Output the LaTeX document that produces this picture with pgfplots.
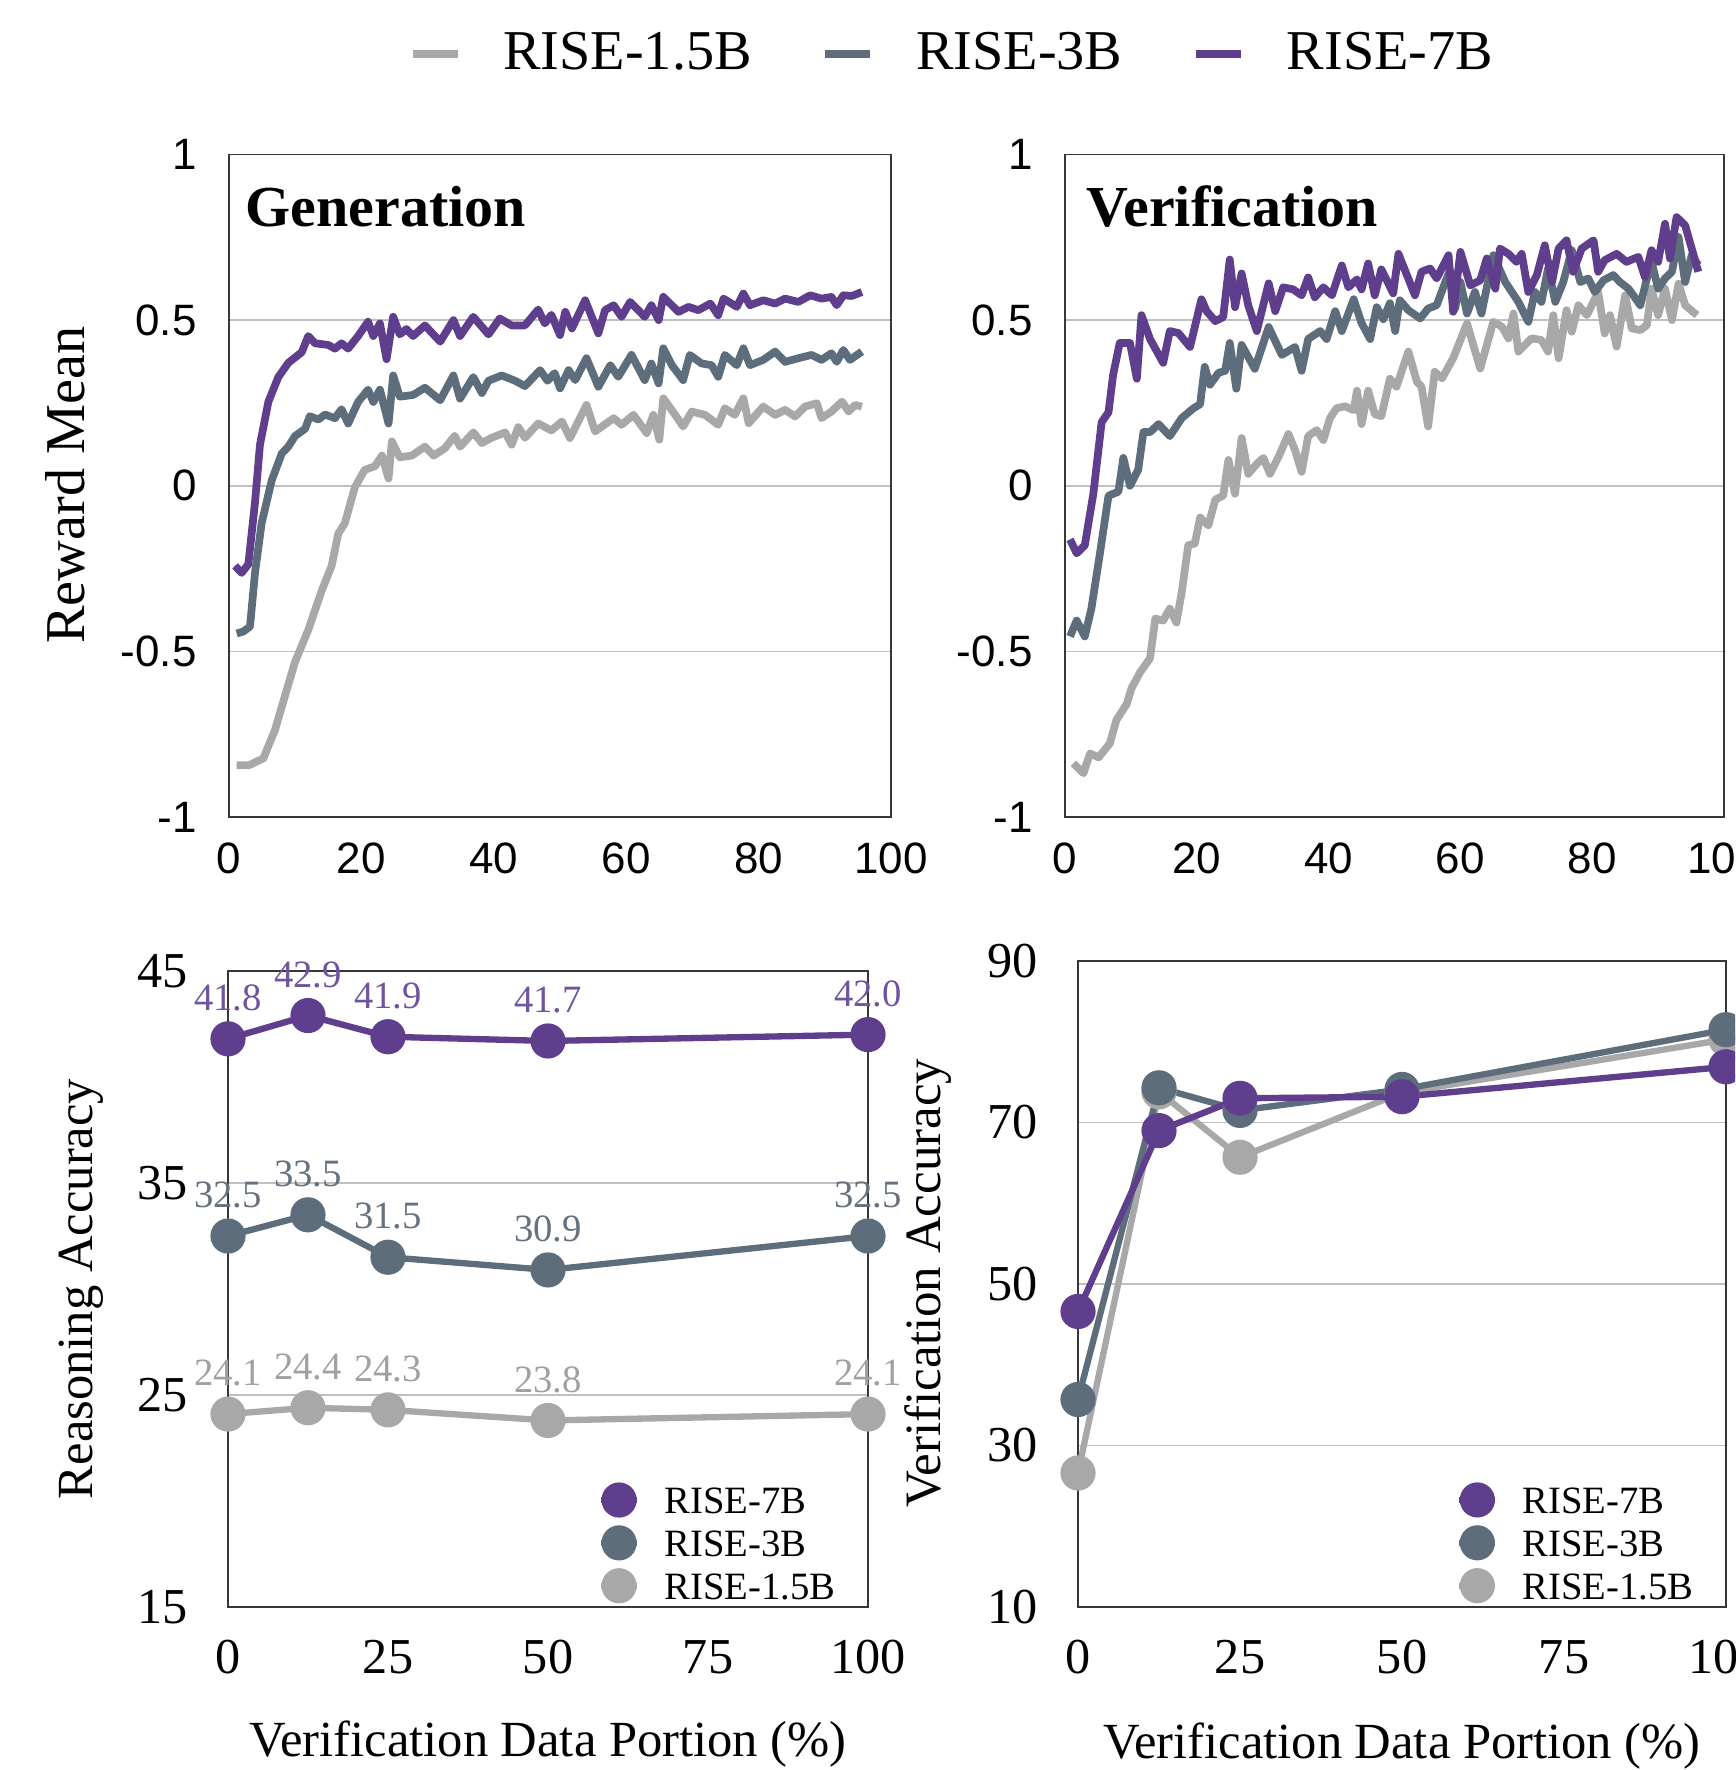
\documentclass[border=0pt]{standalone}
\usepackage{fontspec}
\setmainfont{Liberation Serif}
\setsansfont{Liberation Sans}
\usepackage{pgfplots}
\pgfplotsset{compat=1.18}

\definecolor{c7}{RGB}{96,62,142}
\definecolor{c3}{RGB}{94,109,124}
\definecolor{c15}{RGB}{168,168,168}
\definecolor{l7}{RGB}{112,84,158}
\definecolor{l3}{RGB}{100,113,127}
\definecolor{l15}{RGB}{160,160,160}
\definecolor{framec}{RGB}{55,55,55}
\definecolor{gridc}{RGB}{192,192,192}

\newcommand\fs[1]{\fontsize{#1}{#1}\selectfont}

\pgfplotsset{
  base/.style={
    scale only axis, anchor=south west,
    axis line style={framec, line width=0.55pt},
    major tick length=0pt, ymajorgrids,
    major grid style={gridc, line width=0.45pt},
    /pgf/number format/assume math mode=true,
  },
  top/.style={
    base, width=66.2mm, height=66.25mm,
    xmin=0, xmax=100, ymin=-1, ymax=1,
    xtick={0,20,40,60,80,100}, xticklabels={0,20,40,60,80,100},
    ytick={-1,-0.5,0,0.5,1}, yticklabels={-1,-0.5,0,0.5,1},
    tick label style={font=\sffamily\fs{12.5}},
    xticklabel style={yshift=-1.35mm}, yticklabel style={xshift=-2mm},
    every axis plot/.append style={line width=2.2pt, no marks, line join=round},
  },
  bot/.style={
    base, xmin=0, xmax=100, clip=false,
    xtick={0,25,50,75,100}, xticklabels={0,25,50,75,100},
    tick label style={font=\fs{14.3}},
    xticklabel style={yshift=-2.1mm}, yticklabel style={xshift=-2.8mm},
    every axis plot/.append style={line width=1.8pt, mark=*, mark size=4.1pt},
    xlabel={Verification Data Portion (\%)},
    every axis x label/.style={at={(axis description cs:0.5,-0.2154)}, anchor=center, font=\fs{14.4}},
    reverse legend, legend cell align=left,
    legend style={draw=none, fill=none, inner sep=0pt, font=\fs{11},
      nodes={inner sep=0.6pt, text height=7.6pt, text depth=0pt},
      row sep=3.4pt,
      /tikz/every odd column/.append style={column sep=2.2mm}},
    legend image code/.code={\draw[#1, mark repeat=2, mark phase=2] plot coordinates {(-1.8mm,0) (0,0) (1.8mm,0)};},
  },
}

\begin{document}
\begin{tikzpicture}
\useasboundingbox (0,0) rectangle (173.5mm,-177mm);
\clip (0,0) rectangle (173.5mm,-177mm);

% Generation
\begin{axis}[top, at={(22.9mm,-81.7mm)},
  ylabel={Reward Mean},
  every axis y label/.style={at={(axis description cs:-0.2477,0.501)}, rotate=90, anchor=center, font=\fs{16}},
  legend columns=3,
  legend style={at={(1.0906,1.152)}, anchor=center, draw=none, fill=none, inner sep=0pt,
    font=\fs{16}, nodes={inner sep=0pt},
    /tikz/every odd column/.append style={column sep=4.2mm},
    /tikz/every even column/.append style={column sep=7.0mm}},
  legend image code/.code={\draw[#1, line width=0.75mm] (0,0) -- (4.5mm,0);},
]
\addplot[c15] coordinates {(1.16,-0.844) (3.0,-0.844) (5.19,-0.823) (6.95,-0.737) (8.46,-0.634) (9.97,-0.532) (11.98,-0.435) (14.0,-0.317) (15.5,-0.242) (16.5,-0.145) (17.5,-0.113) (19.0,-0.005) (20.5,0.048) (22.05,0.059) (23.1,0.091) (24.1,0.022) (24.6,0.134) (25.8,0.086) (27.6,0.091) (29.6,0.118) (30.9,0.091) (32.6,0.113) (34.1,0.151) (34.9,0.118) (36.9,0.161) (38.2,0.129) (39.7,0.145) (41.7,0.161) (42.7,0.124) (43.7,0.177) (44.7,0.145) (46.7,0.188) (48.7,0.167) (50.3,0.194) (51.5,0.144) (54,0.244) (55.3,0.164) (58.1,0.204) (59.3,0.184) (61.1,0.214) (63.1,0.159) (64.1,0.214) (65,0.139) (65.6,0.264) (67.4,0.214) (68.6,0.179) (69.9,0.224) (71.9,0.214) (73.9,0.184) (74.9,0.234) (76.4,0.214) (77.7,0.264) (78.5,0.189) (80.7,0.239) (82.5,0.214) (84,0.229) (85.5,0.209) (87,0.239) (88.8,0.249) (89.5,0.204) (91,0.224) (92.6,0.254) (93.6,0.224) (94.6,0.244) (95.6,0.239)};
\addlegendentry{RISE-1.5B}
\addplot[c3] coordinates {(1.16,-0.446) (2.17,-0.44) (3.17,-0.425) (3.93,-0.263) (4.93,-0.113) (6.45,0.016) (7.96,0.097) (8.96,0.118) (9.97,0.15) (11.5,0.172) (12.2,0.21) (13.5,0.2) (14.5,0.215) (16.0,0.204) (17.0,0.231) (18.0,0.188) (19.5,0.253) (21.0,0.29) (21.8,0.253) (22.8,0.29) (24.1,0.188) (24.8,0.333) (25.8,0.269) (27.8,0.274) (29.6,0.296) (31.9,0.258) (33.9,0.333) (34.9,0.263) (36.9,0.328) (38.2,0.28) (39.2,0.317) (41.2,0.333) (43.2,0.317) (44.7,0.301) (47.0,0.349) (48.1,0.317) (49.2,0.34) (50,0.294) (51.3,0.349) (52.3,0.319) (54,0.385) (55.8,0.299) (57.6,0.364) (58.8,0.329) (60.8,0.395) (62.8,0.319) (63.8,0.369) (64.9,0.309) (65.6,0.415) (66.9,0.364) (68.6,0.319) (69.6,0.395) (71.4,0.369) (72.9,0.364) (73.9,0.329) (74.9,0.395) (76.7,0.364) (77.7,0.415) (78.7,0.364) (80.7,0.38) (82.5,0.405) (84,0.374) (86,0.385) (88,0.395) (89.5,0.38) (91,0.4) (91.8,0.374) (92.8,0.41) (93.8,0.38) (95.6,0.405)};
\addlegendentry{RISE-3B}
\addplot[c7] coordinates {(0.91,-0.242) (1.91,-0.263) (2.92,-0.237) (3.93,-0.05) (4.68,0.124) (5.94,0.253) (7.45,0.328) (8.96,0.371) (10.98,0.403) (11.98,0.452) (12.99,0.43) (15.0,0.425) (16.0,0.414) (17.0,0.43) (18.0,0.414) (19.5,0.452) (21.0,0.495) (21.8,0.452) (22.8,0.49) (23.8,0.382) (24.8,0.51) (25.8,0.457) (26.8,0.473) (27.8,0.452) (29.6,0.484) (31.9,0.435) (33.9,0.5) (34.9,0.452) (36.9,0.51) (39.2,0.457) (40.9,0.505) (42.7,0.484) (44.7,0.484) (46.7,0.532) (47.7,0.49) (48.7,0.516) (50,0.455) (50.8,0.525) (51.8,0.475) (53.8,0.56) (55.8,0.46) (56.8,0.53) (58.1,0.545) (59.3,0.51) (60.6,0.555) (62.8,0.51) (63.8,0.545) (64.9,0.5) (65.6,0.57) (67.9,0.525) (69.4,0.54) (70.9,0.53) (72.7,0.55) (73.9,0.515) (74.7,0.565) (76.7,0.54) (77.7,0.58) (78.7,0.545) (80.7,0.56) (82.5,0.55) (84,0.565) (86,0.555) (87.8,0.575) (89.5,0.565) (91,0.57) (91.8,0.545) (92.8,0.575) (94.1,0.573) (95.6,0.585)};
\addlegendentry{RISE-7B}
\node[anchor=base west, inner sep=0pt, font=\bfseries\fs{16.5}] at (rel axis cs:0.024,0.892) {Generation};
\end{axis}

% Verification
\begin{axis}[top, at={(106.5mm,-81.7mm)}, width=65.9mm]
\addplot[c15] coordinates {(1.26,-0.838) (2.8,-0.868) (3.8,-0.808) (5.1,-0.82) (6.8,-0.778) (7.8,-0.707) (9.36,-0.659) (10.1,-0.611) (11.4,-0.563) (12.9,-0.521) (13.7,-0.401) (14.9,-0.407) (15.9,-0.371) (16.9,-0.413) (17.7,-0.323) (18.7,-0.18) (19.7,-0.174) (20.5,-0.096) (21.75,-0.12) (22.8,-0.042) (24,-0.03) (24.8,0.078) (25.8,-0.024) (26.8,0.144) (27.8,0.036) (29.1,0.066) (30.1,0.084) (31.1,0.036) (32.6,0.096) (33.9,0.156) (34.9,0.108) (35.9,0.042) (36.9,0.15) (38.2,0.168) (39.2,0.138) (40.2,0.204) (41.2,0.234) (42.5,0.24) (43.8,0.228) (44.3,0.287) (45,0.186) (46,0.287) (47,0.216) (48,0.21) (49.3,0.323) (50.3,0.299) (52.1,0.405) (53.4,0.314) (54.1,0.299) (55.1,0.179) (56.1,0.344) (57.2,0.324) (58.9,0.385) (61,0.49) (63,0.354) (65,0.495) (66.3,0.48) (67.3,0.445) (68.05,0.52) (68.8,0.405) (70.8,0.445) (72.3,0.44) (73.3,0.405) (74.1,0.515) (74.9,0.385) (76.1,0.53) (76.9,0.465) (77.9,0.545) (79.2,0.515) (80.9,0.585) (81.9,0.46) (82.7,0.515) (83.7,0.42) (85,0.575) (86,0.475) (87.3,0.47) (88.3,0.485) (89,0.595) (90,0.515) (91.05,0.595) (92.1,0.5) (93.1,0.61) (94.1,0.545) (95.9,0.515)};
\addplot[c3] coordinates {(0.76,-0.455) (1.77,-0.407) (3.0,-0.455) (4.0,-0.371) (5.3,-0.204) (6.6,-0.03) (8.1,-0.018) (8.85,0.084) (9.86,0.0) (11.1,0.048) (11.9,0.162) (12.9,0.162) (14.2,0.186) (15.9,0.15) (17.7,0.204) (19.5,0.234) (20.5,0.246) (21.2,0.359) (22,0.305) (23.3,0.341) (24.3,0.347) (25,0.431) (26,0.293) (26.8,0.425) (28.8,0.353) (30.9,0.479) (32.9,0.395) (34.9,0.419) (35.9,0.347) (36.9,0.443) (38.7,0.467) (39.7,0.443) (41,0.527) (42,0.467) (43.8,0.563) (45,0.491) (46.3,0.443) (47.3,0.539) (48.3,0.503) (49.3,0.551) (50.1,0.467) (50.8,0.56) (52.1,0.53) (53.9,0.505) (55.1,0.535) (56.4,0.545) (57.7,0.615) (58.4,0.65) (59.2,0.535) (60,0.615) (61,0.52) (62.2,0.585) (63.2,0.52) (65,0.696) (66.8,0.615) (68.8,0.555) (70.3,0.495) (71.3,0.585) (72.3,0.555) (73.3,0.656) (74.4,0.555) (75.6,0.615) (76.9,0.711) (78.2,0.615) (79.4,0.626) (80.4,0.585) (81.7,0.62) (83.2,0.636) (84.2,0.615) (85.5,0.595) (87.3,0.545) (88.3,0.626) (89,0.676) (90,0.595) (91.05,0.626) (92.1,0.646) (93.1,0.751) (94.1,0.615) (95.1,0.696) (96.1,0.666)};
\addplot[c7] coordinates {(0.76,-0.162) (1.77,-0.204) (3.0,-0.18) (4.3,-0.024) (5.56,0.192) (6.6,0.222) (7.3,0.335) (8.3,0.431) (9.86,0.431) (10.9,0.323) (11.6,0.515) (12.9,0.443) (14.9,0.371) (15.9,0.467) (17.2,0.461) (18.97,0.419) (20.7,0.563) (21.5,0.527) (22.8,0.497) (24,0.509) (25,0.683) (25.8,0.539) (26.8,0.641) (27.8,0.545) (29.1,0.467) (30.9,0.611) (31.9,0.527) (33.1,0.599) (34.6,0.593) (35.9,0.575) (36.9,0.629) (37.9,0.569) (39.2,0.599) (40.5,0.575) (42,0.665) (43,0.599) (44.3,0.623) (45,0.593) (46,0.671) (47,0.575) (48,0.653) (49.8,0.581) (50.6,0.70) (53.1,0.575) (54.1,0.646) (55.4,0.656) (56.4,0.626) (58.2,0.696) (58.9,0.525) (60,0.706) (61.5,0.605) (63,0.62) (64,0.686) (65.3,0.595) (66,0.716) (67.3,0.70) (68.5,0.676) (69.3,0.70) (70.3,0.585) (71.6,0.636) (72.8,0.726) (73.9,0.615) (74.9,0.716) (76.1,0.741) (77.1,0.646) (78.4,0.716) (80.2,0.741) (80.9,0.646) (81.9,0.681) (83.7,0.70) (85.2,0.676) (87,0.691) (88,0.63) (89,0.711) (90,0.676) (91.05,0.791) (91.8,0.686) (92.8,0.811) (94.1,0.786) (95.1,0.716) (96.1,0.646)};
\node[anchor=base west, inner sep=0pt, font=\bfseries\fs{16.5}] at (rel axis cs:0.032,0.892) {Verification};
\end{axis}

% Reasoning accuracy
\begin{axis}[bot, at={(22.8mm,-160.7mm)}, width=64mm, height=63.6mm,
  ymin=15, ymax=45, ytick={15,25,35,45}, yticklabels={15,25,35,45},
  ylabel={Reasoning Accuracy},
  every axis y label/.style={at={(axis description cs:-0.2297,0.5)}, rotate=90, anchor=center, font=\fs{14.4}},
  nodes near coords={\pgfmathprintnumber[fixed,fixed zerofill,precision=1]{\pgfplotspointmeta}},
  every node near coord/.append style={font=\fs{11}, yshift=1.3mm},
  legend style={at={(0.953,0.008)}, anchor=south east},
]
\addplot[c15, every node near coord/.append style={text=l15}] coordinates {(0,24.1) (12.5,24.4) (25,24.3) (50,23.8) (100,24.1)};
\addlegendentry{RISE-1.5B}
\addplot[c3, every node near coord/.append style={text=l3}] coordinates {(0,32.5) (12.5,33.5) (25,31.5) (50,30.9) (100,32.5)};
\addlegendentry{RISE-3B}
\addplot[c7, every node near coord/.append style={text=l7}] coordinates {(0,41.8) (12.5,42.9) (25,41.9) (50,41.7) (100,42.0)};
\addlegendentry{RISE-7B}
\end{axis}

% Verification accuracy
\begin{axis}[bot, at={(107.8mm,-160.7mm)}, width=64.8mm, height=64.6mm,
  ymin=10, ymax=90, ytick={10,30,50,70,90}, yticklabels={10,30,50,70,90},
  ylabel={Verification Accuracy},
  every axis y label/.style={at={(axis description cs:-0.2315,0.5015)}, rotate=90, anchor=center, font=\fs{14.5}},
  legend style={at={(0.954,0.008)}, anchor=south east},
]
\addplot[c15] coordinates {(0,26.6) (12.5,73.8) (25,65.7) (50,73.7) (100,80.3)};
\addlegendentry{RISE-1.5B}
\addplot[c3] coordinates {(0,35.7) (12.5,74.3) (25,71.5) (50,74.1) (100,81.5)};
\addlegendentry{RISE-3B}
\addplot[c7] coordinates {(0,46.6) (12.5,69.0) (25,73.0) (50,73.2) (100,76.9)};
\addlegendentry{RISE-7B}
\end{axis}
\end{tikzpicture}
\end{document}
